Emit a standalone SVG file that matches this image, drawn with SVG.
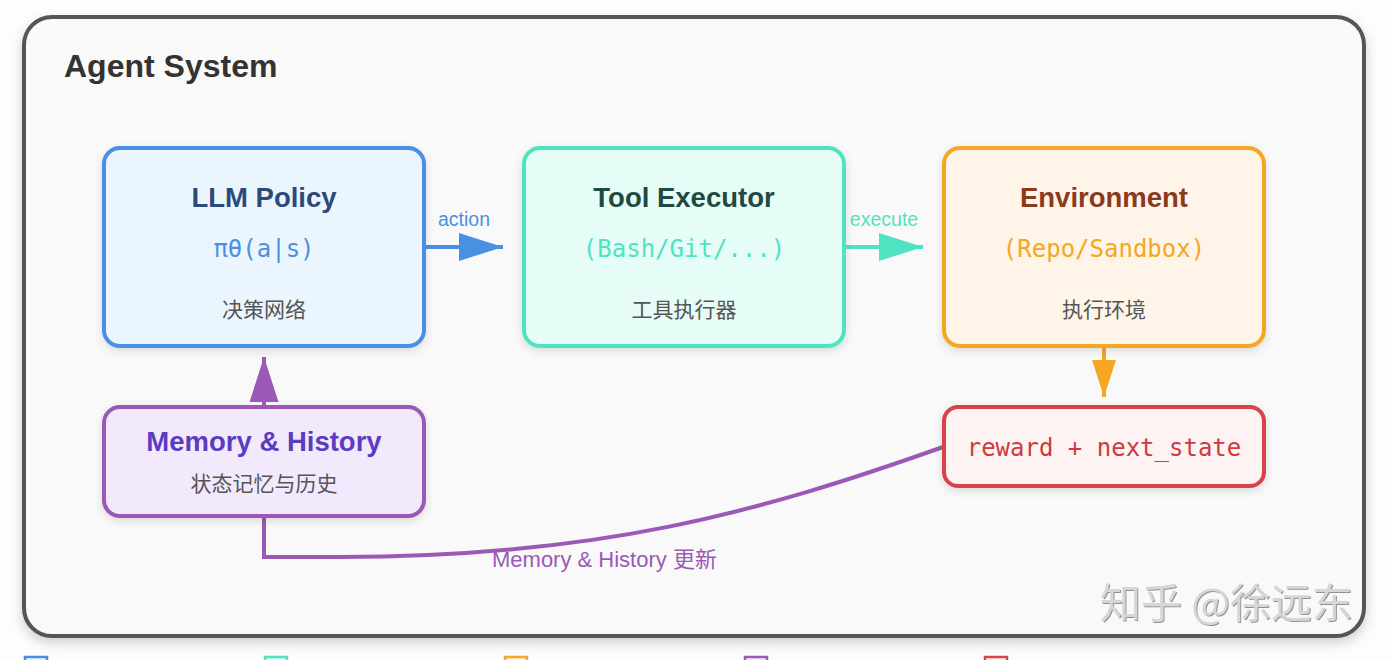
<svg xmlns="http://www.w3.org/2000/svg" width="1392" height="660" viewBox="0 0 1392 660">
<defs>
<filter id="sh" x="-10%" y="-10%" width="120%" height="130%"><feDropShadow dx="0" dy="3" stdDeviation="4" flood-color="#000" flood-opacity="0.12"/></filter>
<filter id="shc" x="-5%" y="-5%" width="110%" height="115%"><feDropShadow dx="0" dy="5" stdDeviation="6" flood-color="#000" flood-opacity="0.18"/></filter>
<filter id="wm" x="-5%" y="-20%" width="110%" height="140%"><feDropShadow dx="1" dy="1" stdDeviation="0.6" flood-color="#777" flood-opacity="0.8"/></filter>
<marker id="ab" viewBox="0 0 44 28" markerWidth="44" markerHeight="28" refX="44" refY="14" markerUnits="userSpaceOnUse" orient="auto"><path d="M0,0 L44,14 L0,28 z" fill="#4a90e2"/></marker>
<marker id="at" viewBox="0 0 44 28" markerWidth="44" markerHeight="28" refX="44" refY="14" markerUnits="userSpaceOnUse" orient="auto"><path d="M0,0 L44,14 L0,28 z" fill="#50e3c2"/></marker>
<marker id="ao" viewBox="0 0 37 24" markerWidth="37" markerHeight="24" refX="37" refY="12" markerUnits="userSpaceOnUse" orient="auto"><path d="M0,0 L37,12 L0,24 z" fill="#f5a623"/></marker>
<marker id="ap" viewBox="0 0 45 29" markerWidth="45" markerHeight="29" refX="45" refY="14.5" markerUnits="userSpaceOnUse" orient="auto"><path d="M0,0 L45,14.5 L0,29 z" fill="#9b59b6"/></marker>
</defs>
<style>
.box{stroke-width:4;filter:url(#sh)}
.t{font-family:"Liberation Sans",Arial,"Noto Sans CJK SC",sans-serif;font-weight:bold;font-size:27.5px;text-anchor:middle}
.m{font-family:"DejaVu Sans Mono","Liberation Mono",monospace;font-size:24px;text-anchor:middle}
.z{font-family:"Noto Sans CJK SC","Liberation Sans",sans-serif;font-size:21px;fill:#555;text-anchor:middle}
.lbl{font-family:"Liberation Sans",Arial,"Noto Sans CJK SC",sans-serif;font-size:19.5px;text-anchor:middle}
.cn{fill:none;stroke-width:4}
.leg{stroke-width:2.5}
</style>
<rect width="1392" height="660" fill="#fdfdfd"/>
<rect x="24" y="17" width="1340" height="619" rx="28" fill="#f9f9f9" stroke="#555" stroke-width="4" filter="url(#shc)"/>
<text x="64" y="77" font-family="Liberation Sans,Arial,sans-serif" font-weight="bold" font-size="32" fill="#333">Agent System</text>

<g id="connectors">
<path class="cn" d="M425,247 L503,247" stroke="#4a90e2" marker-end="url(#ab)"/>
<text class="lbl" x="464" y="226" fill="#4a90e2">action</text>
<path class="cn" d="M845,247 L923,247" stroke="#50e3c2" marker-end="url(#at)"/>
<text class="lbl" x="884" y="226" fill="#50e3c2">execute</text>
<path class="cn" d="M1104,347 L1104,397" stroke="#f5a623" marker-end="url(#ao)"/>
<path class="cn" d="M264,406 L264,357" stroke="#9b59b6" marker-end="url(#ap)"/>
<path class="cn" d="M943,447 C760,512 600,557 340,557 L264,557 L264,517" stroke="#9b59b6"/>
<text x="492" y="567" font-family="Liberation Sans,Arial,'Noto Sans CJK SC',sans-serif" font-size="22" fill="#9b59b6">Memory &amp; History 更新</text>
</g>

<g id="llm-policy">
<rect class="box" x="104" y="148" width="320" height="198" rx="16" fill="#ebf5fe" stroke="#4a90e2"/>
<text class="t" x="264" y="207" fill="#2b4a7a">LLM Policy</text>
<text class="m" x="264" y="257" fill="#4a90e2" font-size="27">πθ(a|s)</text>
<text class="z" x="264" y="317">决策网络</text>
</g>

<g id="tool-executor">
<rect class="box" x="524" y="148" width="320" height="198" rx="16" fill="#e6fcf7" stroke="#50e3c2"/>
<text class="t" x="684" y="207" fill="#1f4a42">Tool Executor</text>
<text class="m" x="684" y="257" fill="#50e3c2">(Bash/Git/...)</text>
<text class="z" x="684" y="317">工具执行器</text>
</g>

<g id="environment">
<rect class="box" x="944" y="148" width="320" height="198" rx="16" fill="#fef5e8" stroke="#f5a623"/>
<text class="t" x="1104" y="207" fill="#8b3a1e">Environment</text>
<text class="m" x="1104" y="257" fill="#f5a623" font-size="21">(Repo/Sandbox)</text>
<text class="z" x="1104" y="317">执行环境</text>
</g>

<g id="memory-history">
<rect class="box" x="104" y="407" width="320" height="109" rx="16" fill="#f3e9fd" stroke="#9b59b6"/>
<text class="t" x="264" y="451" fill="#5b3cc0" font-size="24">Memory &amp; History</text>
<text class="z" x="264" y="491">状态记忆与历史</text>
</g>

<g id="reward-state">
<rect class="box" x="944" y="407" width="320" height="79" rx="14" fill="#fdf3f3" stroke="#d9434a"/>
<text class="m" x="1104" y="456" fill="#d0393f" font-size="24.5">reward + next_state</text>
</g>

<text x="1100" y="618" font-family="Noto Sans CJK SC,sans-serif" font-size="41" fill="#d6d6d6" filter="url(#wm)">知乎 @徐远东</text>

<g id="legend">
<rect class="leg" x="25" y="657" width="22" height="22" fill="#ebf5fe" stroke="#4a90e2"/>
<rect class="leg" x="265" y="657" width="22" height="22" fill="#e6fcf7" stroke="#50e3c2"/>
<rect class="leg" x="505" y="657" width="22" height="22" fill="#fef5e8" stroke="#f5a623"/>
<rect class="leg" x="745" y="657" width="22" height="22" fill="#f3e9fd" stroke="#9b59b6"/>
<rect class="leg" x="985" y="657" width="22" height="22" fill="#fdf3f3" stroke="#d9434a"/>
</g>
</svg>
